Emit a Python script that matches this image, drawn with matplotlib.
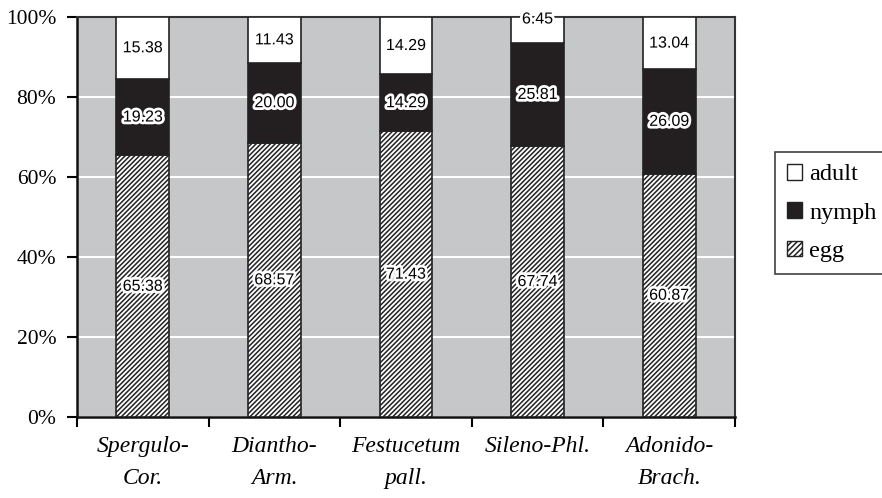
import matplotlib.pyplot as plt
import matplotlib.patheffects as pe
from matplotlib.patches import Patch
import numpy as np

sites = ['Spergulo-\nCor.', 'Diantho-\nArm.', 'Festucetum\npall.', 'Sileno-Phl.', 'Adonido-\nBrach.']
egg = [65.38, 68.57, 71.43, 67.74, 60.87]
nymph = [19.23, 20.00, 14.29, 25.81, 26.09]
adult = [15.38, 11.43, 14.29, 6.45, 13.04]

plt.rcParams['hatch.linewidth'] = 1.1
serif = 'Liberation Serif'
sans = 'Liberation Sans'

fig = plt.figure(figsize=(8.82, 4.98), dpi=100)
ax = fig.add_axes([77/882, 1 - 417/498, (735-77)/882, (417-17)/498])
ax.set_facecolor('#c6c7c9')

x = np.arange(len(sites))
w = 0.4
egg_b = np.array(egg)
nym_b = egg_b + np.array(nymph)

ax.bar(x, egg, w, color='white', edgecolor='#222222', hatch='///////', linewidth=1.2, zorder=3)
ax.bar(x, nymph, w, bottom=egg_b, color='#231f20', edgecolor='#222222', linewidth=1.2, zorder=3)
ax.bar(x, adult, w, bottom=nym_b, color='white', edgecolor='#222222', linewidth=1.2, zorder=3)

halo = [pe.withStroke(linewidth=4, foreground='white')]
for i in range(len(sites)):
    ax.text(x[i], egg[i] / 2, '%.2f' % egg[i], ha='center', va='center', fontsize=11.5,
            family=sans, path_effects=halo, zorder=5)
    ax.text(x[i], egg_b[i] + nymph[i] / 2, '%.2f' % nymph[i], ha='center', va='center', fontsize=11.5,
            family=sans, path_effects=halo, zorder=5)
    ya = nym_b[i] + adult[i] / 2
    if adult[i] < 10:
        ya = 99.5
    ax.text(x[i], ya, '%.2f' % adult[i], ha='center', va='center', fontsize=11.5,
            family=sans, path_effects=halo, zorder=5, clip_on=False)

ax.set_xlim(-0.5, len(sites) - 0.5)
ax.set_ylim(0, 100)
ax.set_yticks(range(0, 101, 20))
ax.set_yticklabels(['%d%%' % v for v in range(0, 101, 20)], family=serif, fontsize=15.5)
ax.yaxis.grid(True, color='white', linewidth=1.5, zorder=1)
ax.set_axisbelow(True)

ax.set_xticks(np.arange(-0.5, len(sites), 1))
ax.set_xticklabels([])
ax.set_xticks(x, minor=True)
ax.set_xticklabels(sites, minor=True, family=serif, style='italic', fontsize=17, linespacing=1.65)
ax.tick_params(axis='x', which='minor', length=0, pad=14)
ax.tick_params(axis='x', which='major', length=7, width=1.5, direction='out')
ax.tick_params(axis='y', length=7, width=1.5, direction='out', pad=8)

for s in ['left', 'bottom']:
    ax.spines[s].set_linewidth(1.8)
    ax.spines[s].set_color('#111111')
for s in ['top', 'right']:
    ax.spines[s].set_linewidth(1.5)
    ax.spines[s].set_color('#333333')

handles = [Patch(facecolor='white', edgecolor='#222222', label='adult'),
           Patch(facecolor='#231f20', edgecolor='#222222', label='nymph'),
           Patch(facecolor='white', edgecolor='#222222', hatch='//////', label='egg')]
leg = fig.legend(handles=handles, loc='upper left', bbox_to_anchor=(775/882, 1 - 152/498),
                 prop={'family': serif, 'size': 17.5}, frameon=True, fancybox=False,
                 handlelength=0.6, handleheight=0.6, handletextpad=0.3, labelspacing=0.7,
                 borderpad=0.5, borderaxespad=0)
leg.get_frame().set_edgecolor('#111111')
leg.get_frame().set_linewidth(1.2)

fig.savefig('out.png', dpi=100)
